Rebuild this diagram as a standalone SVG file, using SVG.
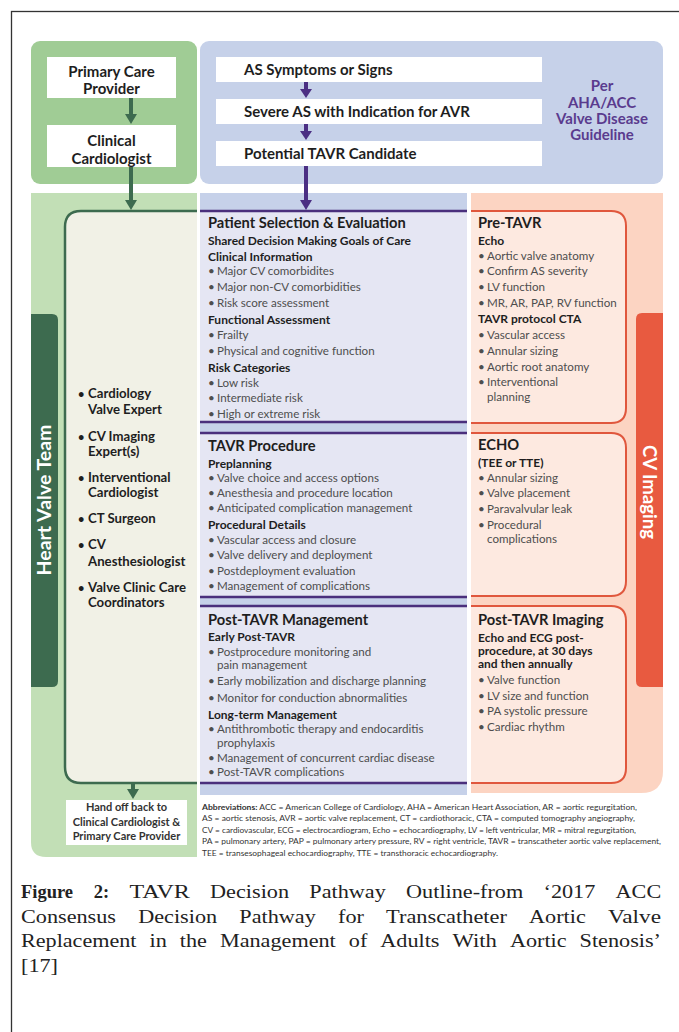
<svg xmlns="http://www.w3.org/2000/svg" width="679" height="1032" viewBox="0 0 679 1032">
<defs>
<style>
.t{font-family:Lato,"Open Sans","Liberation Sans",sans-serif}
.wb{font-weight:700;font-size:15px;fill:#1e1e1e}
.h1{font-weight:700;font-size:14.7px;fill:#1e1e1e}
.h2{font-weight:700;font-size:12px;fill:#1e1e1e}
.b{font-size:11.6px;fill:#4e4e4e}
.tm{font-weight:700;font-size:13.2px;fill:#1e1e1e}
.pu{font-weight:700;font-size:15px;fill:#5a3b8e}
.ab{font-size:7.5px;fill:#333}
.cap{font-family:"Liberation Serif","Times New Roman",serif;font-size:18.5px;fill:#222}
.secbg{fill:#e5e6f3}
.pl{stroke:#4a2f7c;stroke-width:2.5}
.rb{fill:#fde9e0;stroke:#e0573d;stroke-width:2}
.ga{fill:#3d6b4f}
.pa{fill:#4b2f83}
</style>
</defs>
<rect x="0" y="0" width="679" height="1032" fill="#fff"/>
<rect x="11.5" y="11.5" width="700" height="1050" fill="none" stroke="#333" stroke-width="1.3"/>

<!-- backgrounds -->
<g id="bg">
<rect x="31" y="41" width="166" height="143" rx="9" fill="#a0cc95"/>
<rect x="200" y="41" width="463" height="143" rx="9" fill="#c6d1e9"/>
<path d="M31,193 H197 V857 H46 Q31,857 31,842 Z" fill="#c2dfb6"/>
<rect x="200" y="193" width="267" height="602" fill="#c6d1e9"/>
<path d="M471,193 H663 V771 Q663,793 641,793 H471 Z" fill="#fcd4c2"/>
</g>

<!-- top nodes -->
<g id="n-primary">
<rect x="47" y="57" width="129" height="41" fill="#fff"/>
<text class="t wb" x="111.5" y="77" text-anchor="middle">Primary Care</text>
<text class="t wb" x="111.5" y="94" text-anchor="middle">Provider</text>
</g>
<g id="n-clinical">
<rect x="47" y="125" width="129" height="42" fill="#fff"/>
<text class="t wb" x="111.5" y="146" text-anchor="middle">Clinical</text>
<text class="t wb" x="111.5" y="163.5" text-anchor="middle">Cardiologist</text>
</g>
<g id="n-symptoms">
<rect x="216" y="57" width="326" height="25" fill="#fff"/>
<text class="t wb" x="244" y="75">AS Symptoms or Signs</text>
</g>
<g id="n-severe">
<rect x="216" y="99" width="326" height="25" fill="#fff"/>
<text class="t wb" x="244" y="117">Severe AS with Indication for AVR</text>
</g>
<g id="n-candidate">
<rect x="216" y="141" width="326" height="25" fill="#fff"/>
<text class="t wb" x="244" y="159">Potential TAVR Candidate</text>
</g>
<g id="n-guideline" class="t pu" text-anchor="middle">
<text x="602" y="91">Per</text>
<text x="602" y="107.5">AHA/ACC</text>
<text x="602" y="123.5">Valve Disease</text>
<text x="602" y="139.5">Guideline</text>
</g>

<!-- heart valve team -->
<g id="n-team">
<path d="M197,211 H81 Q65,211 65,227 V767 Q65,783 81,783 H197" fill="#f1f1e6" stroke="#3d6b4f" stroke-width="2.5"/>
<path d="M31,314 H52 Q58,314 58,320 V681 Q58,687 52,687 H31 Z" fill="#3d6b4f"/>
<text class="t" transform="translate(51,500) rotate(-90)" text-anchor="middle" font-weight="700" font-size="19.5" fill="#fff">Heart Valve Team</text>
<g class="t tm">
<text x="78" y="397.5" font-size="11">•</text><text x="88" y="397.5">Cardiology</text>
<text x="88" y="413.5">Valve Expert</text>
<text x="78" y="440.5" font-size="11">•</text><text x="88" y="440.5">CV Imaging</text>
<text x="88" y="455.5">Expert(s)</text>
<text x="78" y="481.5" font-size="11">•</text><text x="88" y="481.5">Interventional</text>
<text x="88" y="496.5">Cardiologist</text>
<text x="78" y="522.5" font-size="11">•</text><text x="88" y="522.5">CT Surgeon</text>
<text x="78" y="548.5" font-size="11">•</text><text x="88" y="548.5">CV</text>
<text x="88" y="565.5">Anesthesiologist</text>
<text x="78" y="591.5" font-size="11">•</text><text x="88" y="591.5">Valve Clinic Care</text>
<text x="88" y="606.5">Coordinators</text>
</g>
</g>
<g id="n-handoff">
<rect x="66" y="800" width="121" height="45" fill="#fff"/>
<g class="t" font-weight="700" font-size="11" fill="#333" text-anchor="middle">
<text x="126.5" y="811">Hand off back to</text>
<text x="126.5" y="825.5">Clinical Cardiologist &amp;</text>
<text x="126.5" y="840">Primary Care Provider</text>
</g>
</g>

<!-- middle sections -->
<g id="n-selection">
<rect class="secbg" x="200" y="211" width="267" height="211"/>
<line class="pl" x1="200" y1="211" x2="467" y2="211"/>
<line class="pl" x1="200" y1="422" x2="467" y2="422"/>
<text class="t h1" x="208" y="228">Patient Selection &amp; Evaluation</text>
<text class="t h2" x="208" y="244.5">Shared Decision Making Goals of Care</text>
<text class="t h2" x="208" y="260.5">Clinical Information</text>
<text class="t h2" x="208" y="323.5">Functional Assessment</text>
<text class="t h2" x="208" y="371.5">Risk Categories</text>
<g class="t b">
<text x="208" y="274.5">•</text><text x="217" y="274.5">Major CV comorbidites</text>
<text x="208" y="290.5">•</text><text x="217" y="290.5">Major non-CV comorbidities</text>
<text x="208" y="306.5">•</text><text x="217" y="306.5">Risk score assessment</text>
<text x="208" y="338.5">•</text><text x="217" y="338.5">Frailty</text>
<text x="208" y="354.5">•</text><text x="217" y="354.5">Physical and cognitive function</text>
<text x="208" y="386.5">•</text><text x="217" y="386.5">Low risk</text>
<text x="208" y="401.5">•</text><text x="217" y="401.5">Intermediate risk</text>
<text x="208" y="417.5">•</text><text x="217" y="417.5">High or extreme risk</text>
</g>
</g>
<g id="n-procedure">
<rect class="secbg" x="200" y="433" width="267" height="164"/>
<line class="pl" x1="200" y1="433" x2="467" y2="433"/>
<line class="pl" x1="200" y1="597" x2="467" y2="597"/>
<text class="t h1" x="208" y="451">TAVR Procedure</text>
<text class="t h2" x="208" y="467.5">Preplanning</text>
<text class="t h2" x="208" y="528.5">Procedural Details</text>
<g class="t b">
<text x="208" y="481.5">•</text><text x="217" y="481.5">Valve choice and access options</text>
<text x="208" y="496.5">•</text><text x="217" y="496.5">Anesthesia and procedure location</text>
<text x="208" y="511.5">•</text><text x="217" y="511.5">Anticipated complication management</text>
<text x="208" y="543.5">•</text><text x="217" y="543.5">Vascular access and closure</text>
<text x="208" y="559">•</text><text x="217" y="559">Valve delivery and deployment</text>
<text x="208" y="574.5">•</text><text x="217" y="574.5">Postdeployment evaluation</text>
<text x="208" y="590">•</text><text x="217" y="590">Management of complications</text>
</g>
</g>
<g id="n-postmgmt">
<rect class="secbg" x="200" y="606" width="267" height="177"/>
<line class="pl" x1="200" y1="606" x2="467" y2="606"/>
<line class="pl" x1="200" y1="783" x2="467" y2="783"/>
<text class="t h1" x="208" y="625">Post-TAVR Management</text>
<text class="t h2" x="208" y="640.5">Early Post-TAVR</text>
<text class="t h2" x="208" y="718.5">Long-term Management</text>
<g class="t b">
<text x="208" y="655.5">•</text><text x="217" y="655.5">Postprocedure monitoring and</text>
<text x="217" y="668.5">pain management</text>
<text x="208" y="684.5">•</text><text x="217" y="684.5">Early mobilization and discharge planning</text>
<text x="208" y="701.5">•</text><text x="217" y="701.5">Monitor for conduction abnormalities</text>
<text x="208" y="732.5">•</text><text x="217" y="732.5">Antithrombotic therapy and endocarditis</text>
<text x="217" y="746.5">prophylaxis</text>
<text x="208" y="761.5">•</text><text x="217" y="761.5">Management of concurrent cardiac disease</text>
<text x="208" y="775.5">•</text><text x="217" y="775.5">Post-TAVR complications</text>
</g>
</g>

<!-- right column -->
<g id="n-imaging-tab">
<path d="M663,313 H642 Q636,313 636,319 V681 Q636,687 642,687 H663 Z" fill="#e85a40"/>
<text class="t" transform="translate(642.5,492) rotate(90)" text-anchor="middle" font-weight="700" font-size="18.5" fill="#fff">CV Imaging</text>
</g>
<g id="n-pretavr">
<path class="rb" d="M471,211 H611 Q626,211 626,226 V408 Q626,423 611,423 H471"/>
<text class="t h1" x="478" y="228">Pre-TAVR</text>
<text class="t h2" x="478" y="244.5">Echo</text>
<text class="t h2" x="478" y="322.5">TAVR protocol CTA</text>
<g class="t b">
<text x="478" y="259.5">•</text><text x="487" y="259.5">Aortic valve anatomy</text>
<text x="478" y="274.5">•</text><text x="487" y="274.5">Confirm AS severity</text>
<text x="478" y="290.5">•</text><text x="487" y="290.5">LV function</text>
<text x="478" y="306.5">•</text><text x="487" y="306.5">MR, AR, PAP, RV function</text>
<text x="478" y="338.5">•</text><text x="487" y="338.5">Vascular access</text>
<text x="478" y="354.5">•</text><text x="487" y="354.5">Annular sizing</text>
<text x="478" y="370.5">•</text><text x="487" y="370.5">Aortic root anatomy</text>
<text x="478" y="385.5">•</text><text x="487" y="385.5">Interventional</text>
<text x="487" y="400.5">planning</text>
</g>
</g>
<g id="n-echo">
<path class="rb" d="M471,433 H611 Q626,433 626,448 V581 Q626,596 611,596 H471"/>
<text class="t h1" x="478" y="450">ECHO</text>
<text class="t h2" x="478" y="466.5">(TEE or TTE)</text>
<g class="t b">
<text x="478" y="481.5">•</text><text x="487" y="481.5">Annular sizing</text>
<text x="478" y="496.5">•</text><text x="487" y="496.5">Valve placement</text>
<text x="478" y="512.5">•</text><text x="487" y="512.5">Paravalvular leak</text>
<text x="478" y="528.5">•</text><text x="487" y="528.5">Procedural</text>
<text x="487" y="542.5">complications</text>
</g>
</g>
<g id="n-postimaging">
<path class="rb" d="M471,606 H611 Q626,606 626,621 V768 Q626,783 611,783 H471"/>
<text class="t h1" x="478" y="625">Post-TAVR Imaging</text>
<text class="t h2" x="478" y="641.5">Echo and ECG post-</text>
<text class="t h2" x="478" y="654.5">procedure, at 30 days</text>
<text class="t h2" x="478" y="667.5">and then annually</text>
<g class="t b">
<text x="478" y="683.5">•</text><text x="487" y="683.5">Valve function</text>
<text x="478" y="699.5">•</text><text x="487" y="699.5">LV size and function</text>
<text x="478" y="714.5">•</text><text x="487" y="714.5">PA systolic pressure</text>
<text x="478" y="730.5">•</text><text x="487" y="730.5">Cardiac rhythm</text>
</g>
</g>

<!-- connectors -->
<g id="connectors">
<line x1="131" y1="98" x2="131" y2="115" stroke="#3d6b4f" stroke-width="4"/>
<path class="ga" d="M125,114 H137 L131,124 Z"/>
<line x1="131" y1="167" x2="131" y2="201" stroke="#3d6b4f" stroke-width="4"/>
<path class="ga" d="M125,200 H137 L131,210 Z"/>
<line x1="306" y1="82" x2="306" y2="90" stroke="#4b2f83" stroke-width="4"/>
<path class="pa" d="M300,89 H312 L306,98 Z"/>
<line x1="306" y1="124" x2="306" y2="132" stroke="#4b2f83" stroke-width="4"/>
<path class="pa" d="M300,131 H312 L306,140 Z"/>
<line x1="306" y1="166" x2="306" y2="201" stroke="#4b2f83" stroke-width="4"/>
<path class="pa" d="M300,200 H312 L306,210 Z"/>
<line x1="133" y1="784" x2="133" y2="790" stroke="#3d6b4f" stroke-width="4"/>
<path class="ga" d="M127,789 H139 L133,799 Z"/>
</g>

<!-- abbreviations -->
<g id="abbrev" class="t ab">
<text x="202" y="809.5" textLength="435" lengthAdjust="spacingAndGlyphs"><tspan font-weight="700">Abbreviations:</tspan> ACC = American College of Cardiology, AHA = American Heart Association, AR = aortic regurgitation,</text>
<text x="202" y="821" textLength="433" lengthAdjust="spacingAndGlyphs">AS = aortic stenosis, AVR = aortic valve replacement, CT = cardiothoracic, CTA = computed tomography angiography,</text>
<text x="202" y="832.5" textLength="434" lengthAdjust="spacingAndGlyphs">CV = cardiovascular, ECG = electrocardiogram, Echo = echocardiography, LV = left ventricular, MR = mitral regurgitation,</text>
<text x="202" y="844" textLength="459" lengthAdjust="spacingAndGlyphs">PA = pulmonary artery, PAP = pulmonary artery pressure, RV = right ventricle, TAVR = transcatheter aortic valve replacement,</text>
<text x="202" y="855.5" textLength="296" lengthAdjust="spacingAndGlyphs">TEE = transesophageal echocardiography, TTE = transthoracic echocardiography.</text>
</g>

<!-- caption -->
<g id="caption" class="cap">
<text x="21" y="898" font-weight="700">Figure</text>
<text x="93.7" y="898" font-weight="700">2:</text>
<text x="129.4" y="898" textLength="60.4" lengthAdjust="spacingAndGlyphs">TAVR</text>
<text x="210.1" y="898" textLength="78.9" lengthAdjust="spacingAndGlyphs">Decision</text>
<text x="309.3" y="898" textLength="76.5" lengthAdjust="spacingAndGlyphs">Pathway</text>
<text x="406.1" y="898" textLength="117.1" lengthAdjust="spacingAndGlyphs">Outline-from</text>
<text x="543.5" y="898" textLength="51.8" lengthAdjust="spacingAndGlyphs">‘2017</text>
<text x="615.6" y="898" textLength="45.6" lengthAdjust="spacingAndGlyphs">ACC</text>

<text x="21" y="922.5" textLength="95" lengthAdjust="spacingAndGlyphs">Consensus</text>
<text x="138.2" y="922.5" textLength="78.9" lengthAdjust="spacingAndGlyphs">Decision</text>
<text x="239.3" y="922.5" textLength="76.5" lengthAdjust="spacingAndGlyphs">Pathway</text>
<text x="338" y="922.5" textLength="25.9" lengthAdjust="spacingAndGlyphs">for</text>
<text x="386.1" y="922.5" textLength="120.8" lengthAdjust="spacingAndGlyphs">Transcatheter</text>
<text x="529.1" y="922.5" textLength="56.7" lengthAdjust="spacingAndGlyphs">Aortic</text>
<text x="608" y="922.5" textLength="53" lengthAdjust="spacingAndGlyphs">Valve</text>

<text x="21" y="947" textLength="115.5" lengthAdjust="spacingAndGlyphs">Replacement</text>
<text x="149.5" y="947" textLength="17.3" lengthAdjust="spacingAndGlyphs">in</text>
<text x="179.8" y="947" textLength="27.1" lengthAdjust="spacingAndGlyphs">the</text>
<text x="219.9" y="947" textLength="115.9" lengthAdjust="spacingAndGlyphs">Management</text>
<text x="348.8" y="947" textLength="18.5" lengthAdjust="spacingAndGlyphs">of</text>
<text x="380.3" y="947" textLength="59.2" lengthAdjust="spacingAndGlyphs">Adults</text>
<text x="452.5" y="947" textLength="44.4" lengthAdjust="spacingAndGlyphs">With</text>
<text x="509.9" y="947" textLength="56.7" lengthAdjust="spacingAndGlyphs">Aortic</text>
<text x="579.6" y="947" textLength="81.4" lengthAdjust="spacingAndGlyphs">Stenosis’</text>

<text x="21" y="971.5" textLength="37" lengthAdjust="spacingAndGlyphs">[17]</text>
</g>
</svg>
